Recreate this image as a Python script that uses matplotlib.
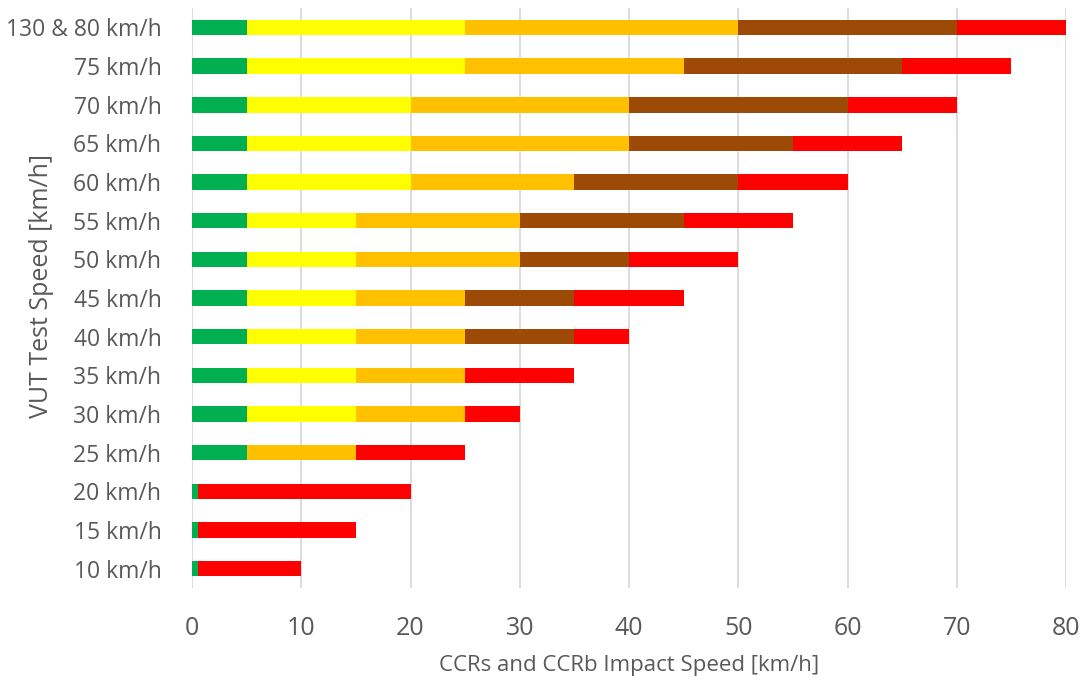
import matplotlib.pyplot as plt
import numpy as np

plt.rcParams['font.family'] = ['Open Sans', 'DejaVu Sans']

speeds = ["10 km/h", "15 km/h", "20 km/h", "25 km/h", "30 km/h", "35 km/h",
          "40 km/h", "45 km/h", "50 km/h", "55 km/h", "60 km/h", "65 km/h",
          "70 km/h", "75 km/h", "130 & 80 km/h"]

# segment widths, bottom to top
green = [0.5, 0.5, 0.5, 5, 5, 5, 5, 5, 5, 5, 5, 5, 5, 5, 5]
yellow = [0, 0, 0, 0, 10, 10, 10, 10, 10, 10, 15, 15, 15, 20, 20]
orange = [0, 0, 0, 10, 10, 10, 10, 10, 15, 15, 15, 20, 20, 20, 25]
brown = [0, 0, 0, 0, 0, 0, 10, 10, 10, 15, 15, 15, 20, 20, 20]
red = [9.5, 14.5, 19.5, 10, 5, 10, 5, 10, 10, 10, 10, 10, 10, 10, 10]

colors = ["#00B050", "#FFFF00", "#FFC000", "#9C4A06", "#FF0000"]
series = [green, yellow, orange, brown, red]

fig = plt.figure(figsize=(10.85, 6.81), dpi=100)
ax = fig.add_axes([0.177, 0.1366, 0.8055, 0.8514])

y = np.arange(len(speeds))
left = np.zeros(len(speeds))
for vals, c in zip(series, colors):
    vals = np.array(vals, dtype=float)
    ax.barh(y, vals, left=left, height=0.4, color=c, zorder=3)
    left += vals

ax.set_xlim(0, 80)
ax.set_ylim(-0.5, len(speeds) - 0.5)
ax.set_xticks(range(0, 81, 10))
ax.set_yticks(y)
ax.set_yticklabels(speeds)
ax.grid(axis='x', color='#D9D9D9', linewidth=1.3, zorder=0)
for s in ax.spines.values():
    s.set_visible(False)
ax.tick_params(axis='both', length=0, colors='#595959')
ax.tick_params(axis='y', labelsize=16.5, pad=22)
ax.tick_params(axis='x', labelsize=18, pad=20)
ax.set_xlabel("CCRs and CCRb Impact Speed [km/h]", fontsize=16, color='#595959', labelpad=10)
ax.set_ylabel("VUT Test Speed [km/h]", fontsize=18, color='#595959')
ax.yaxis.set_label_coords(-0.158, 0.52)

fig.savefig("out.png", dpi=100)
